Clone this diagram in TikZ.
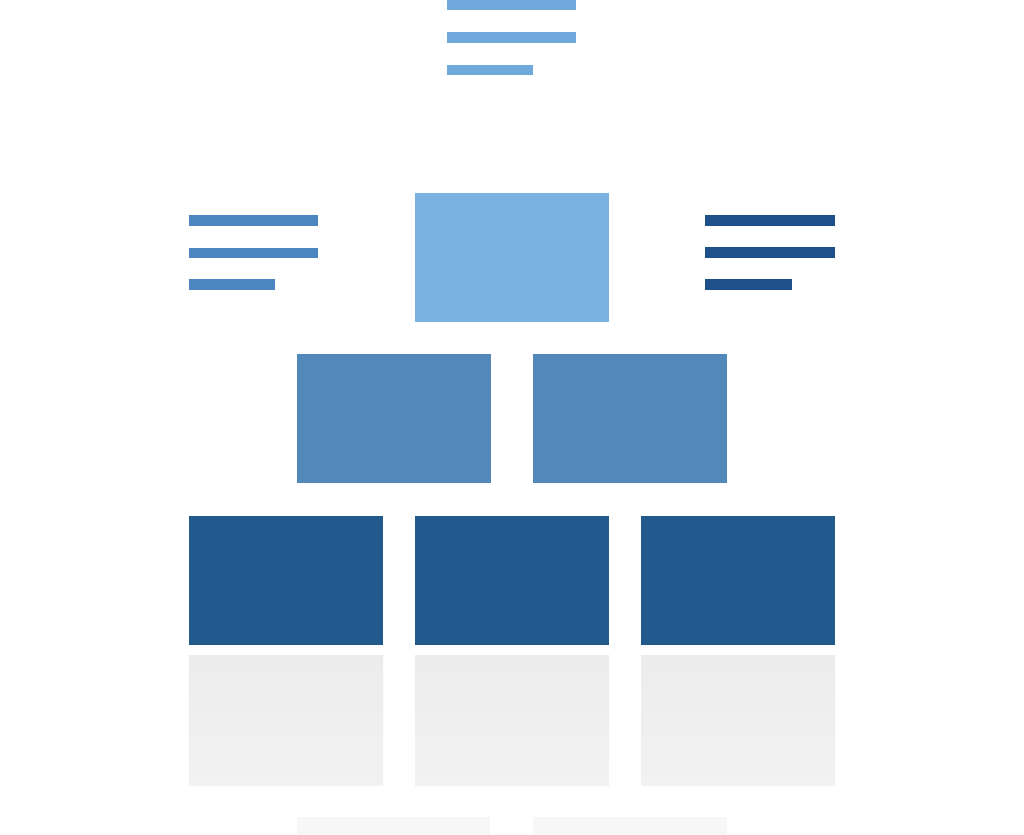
\documentclass[tikz,border=0pt]{standalone}
\usepackage{tikz}

\definecolor{tierlight}{HTML}{7AB3E1}
\definecolor{tiermid}{HTML}{5288BA}
\definecolor{tierdark}{HTML}{235A8E}
\definecolor{barmid}{HTML}{4B86C0}
\definecolor{bardark}{HTML}{1E5189}
\definecolor{bartop}{HTML}{70AADD}
\definecolor{mirror}{HTML}{ECECEC}

\begin{document}
\begin{tikzpicture}[x=0.2mm,y=-0.2mm,
		tier/.style={rectangle,inner sep=0pt,minimum width=38.8mm,minimum height=25.8mm},
		mirrorbox/.style={tier,minimum height=26mm,top color=mirror,bottom color=mirror!70}]
		\useasboundingbox[fill=white] (0,0) rectangle (1024,835);
		
		\fill[bartop] (447,0) rectangle (576,10);
		\fill[bartop] (447,32) rectangle (576,43);
		\fill[bartop] (447,65) rectangle (533,75);
		
		\fill[barmid] (189,215) rectangle (318,226);
		\fill[barmid] (189,248) rectangle (318,258);
		\fill[barmid] (189,279) rectangle (275,290);
		
		\fill[bardark] (705,215) rectangle (835,226);
		\fill[bardark] (705,247) rectangle (835,258);
		\fill[bardark] (705,279) rectangle (792,290);
		
		\node[tier,fill=tierlight] (apex) at (512,257.5) {};
		
		\node[tier,fill=tiermid] (midleft) at (393.5,418.5) {};
		\node[tier,fill=tiermid] (midright) at (630,418.5) {};
		
		\node[tier,fill=tierdark] (baseleft) at (286,580.5) {};
		\node[tier,fill=tierdark] (basemid) at (512,580.5) {};
		\node[tier,fill=tierdark] (baseright) at (738,580.5) {};
		
		% reflection
		\node[mirrorbox] (mirrorleft) at (286,720) {};
		\node[mirrorbox] (mirrormid) at (512,720) {};
		\node[mirrorbox] (mirrorright) at (738,720) {};
		\fill[mirror!40] (297,817) rectangle (490,835);
		\fill[mirror!40] (533,817) rectangle (727,835);
	\end{tikzpicture}
\end{document}
